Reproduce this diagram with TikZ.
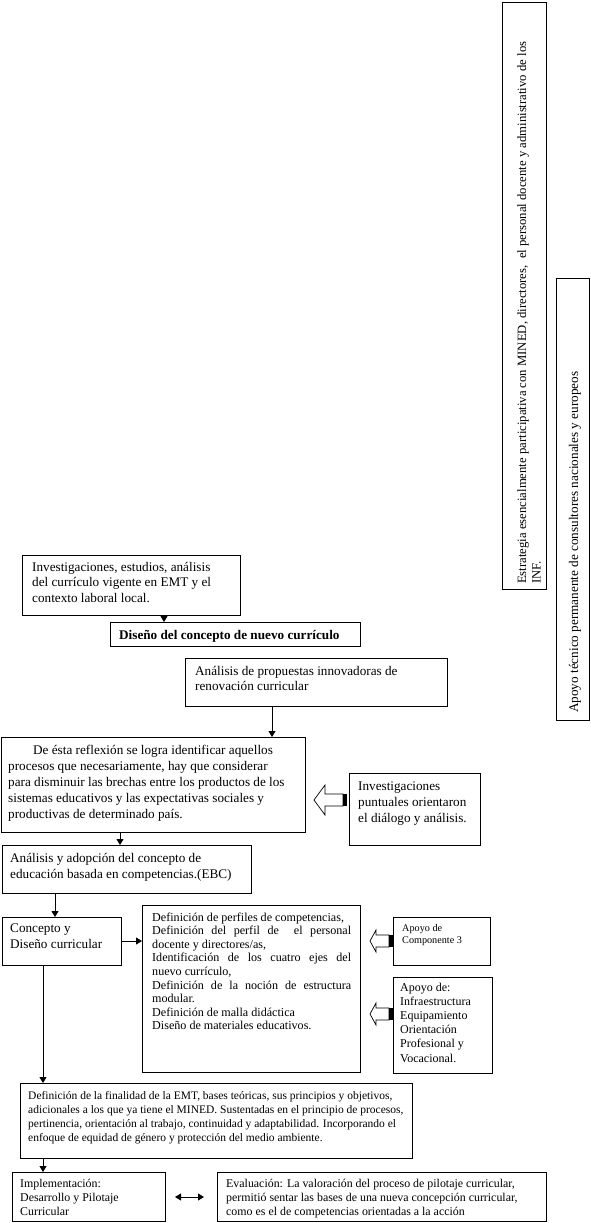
\documentclass[tikz,border=0pt]{standalone}
\usepackage{fontspec}
\setmainfont{Liberation Serif}
\usetikzlibrary{arrows.meta}
\newcommand\tb[2]{\vtop{\hsize=#1\relax\parindent=0pt\raggedright #2}}
\newcommand\fA{\fontsize{13.2}{15.5}\selectfont}
\newcommand\fR{\fontsize{13.2}{14.5}\selectfont}
\newcommand\fS{\fontsize{12.7}{14.5}\selectfont}
\newcommand\fB{\fontsize{12.1}{13.6}\selectfont}
\newcommand\fC{\fontsize{11.5}{14}\selectfont}
\newcommand\fF{\fontsize{11.9}{14}\selectfont}
\newcommand\fD{\fontsize{10.2}{12}\selectfont}
\newcommand\fE{\fontsize{12}{14.2}\selectfont}
\begin{document}
\begin{tikzpicture}[x=1pt,y=-1pt,
 boxst/.style={draw, line width=0.9pt, rectangle, inner sep=0pt, anchor=north west},
 txt/.style={anchor=base west, inner sep=0pt},
 arr/.style={line width=0.9pt, -{Triangle[length=6pt,width=7pt]}},
 darr/.style={line width=0.9pt, {Triangle[length=6pt,width=7pt]}-{Triangle[length=6pt,width=7pt]}},
 hollow/.style={draw, line width=0.7pt, fill=white}]
\useasboundingbox (0,0) rectangle (590,1223);

% boxes
\node[boxst, minimum width=44pt, minimum height=587pt] (b1) at (502,2) {};
\node[boxst, minimum width=33pt, minimum height=442pt] (b2) at (556,278) {};
\node[boxst, minimum width=218pt, minimum height=60pt] (b3) at (22,555) {};
\node[boxst, minimum width=250pt, minimum height=24pt] (b4) at (110,622) {};
\node[boxst, minimum width=262pt, minimum height=48pt] (b5) at (185,658) {};
\node[boxst, minimum width=304pt, minimum height=95pt] (b6) at (1,737) {};
\node[boxst, minimum width=131pt, minimum height=72pt] (b7) at (349,773) {};
\node[boxst, minimum width=249pt, minimum height=48pt] (b8) at (2,845) {};
\node[boxst, minimum width=119pt, minimum height=48pt] (b9) at (2,917) {};
\node[boxst, minimum width=218pt, minimum height=167pt] (b10) at (142,905) {};
\node[boxst, minimum width=97pt, minimum height=48pt] (bc3) at (393,917) {};
\node[boxst, minimum width=99pt, minimum height=96pt] (bap) at (393,977) {};
\node[boxst, minimum width=392pt, minimum height=75pt] (b11) at (20,1083) {};
\node[boxst, minimum width=153pt, minimum height=49pt] (b12) at (12,1172) {};
\node[boxst, minimum width=329pt, minimum height=49pt] (b13) at (217,1172) {};

% texts
\node[txt, rotate=90] (t1) at (526,584) {\tb{600pt}{\fS Estrategia esencialmente participativa con MINED, directores,\ \ el personal docente y administrativo de los\\INF.}};
\node[txt, rotate=90] (t2) at (578,713) {\tb{450pt}{\fR Apoyo técnico permanente de consultores nacionales y europeos}};
\node[txt] (t3) at (32,571) {\tb{210pt}{\fA Investigaciones, estudios, análisis\\del currículo vigente en EMT y el\\contexto laboral local.}};
\node[txt] (t4) at (119,639) {\fA\bfseries Diseño del concepto de nuevo currículo};
\node[txt] (t5) at (195,675) {\tb{250pt}{\fA Análisis de propuestas innovadoras de\\renovación curricular}};
\node[txt] (t6) at (8,754) {\tb{300pt}{\fontsize{13.2}{16}\selectfont\hspace*{25pt}De ésta reflexión se logra identificar aquellos\\procesos que necesariamente, hay que considerar\\para disminuir las brechas entre los productos de los\\sistemas educativos y las expectativas sociales y\\productivas de determinado país.}};
\node[txt] (t7) at (358,790) {\tb{125pt}{\fontsize{13.2}{16}\selectfont Investigaciones\\puntuales orientaron\\el diálogo y análisis.}};
\node[txt] (t8) at (10,862) {\tb{240pt}{\fontsize{13.2}{16}\selectfont Análisis y adopción del concepto de\\educación basada en competencias.(EBC)}};
\node[txt] (t9) at (10,932) {\tb{110pt}{\fontsize{13.2}{16}\selectfont Concepto y\\Diseño curricular}};
\node[txt] (t10) at (152,921) {\tb{199pt}{\fB Definición de perfiles de competencias,\\
\makebox[199pt][s]{Definición del perfil de \ el personal}\\
docente y directores/as,\\
\makebox[199pt][s]{Identificación de los cuatro ejes del}\\
nuevo currículo,\\
\makebox[199pt][s]{Definición de la noción de estructura}\\
modular.\\
Definición de malla didáctica\\
Diseño de materiales educativos.}};
\node[txt] (tc3) at (402,931) {\tb{85pt}{\fD Apoyo de\\Componente 3}};
\node[txt] (tap) at (400,991) {\tb{90pt}{\fE Apoyo de:\\Infraestructura\\Equipamiento\\Orientación\\Profesional y\\Vocacional.}};
\node[txt] (t11) at (28,1099) {\tb{400pt}{\fC Definición de la finalidad de la EMT, bases teóricas, sus principios y objetivos,\\adicionales a los que ya tiene el MINED. Sustentadas en el principio de procesos,\\pertinencia, orientación al trabajo, continuidad y adaptabilidad. Incorporando el\\enfoque de equidad de género y protección del medio ambiente.}};
\node[txt] (t12) at (20,1187) {\tb{140pt}{\fF Implementación:\\Desarrollo y Pilotaje\\Curricular}};
\node[txt] (t13) at (226,1187) {\tb{320pt}{\fF Evaluación: La valoración del proceso de pilotaje curricular,\\permitió sentar las bases de una nueva concepción curricular,\\como es el de competencias orientadas a la acción}};

% connector guide coordinates
\coordinate (x164) at (164,0);
\coordinate (x272) at (272,0);
\coordinate (x120) at (120,0);
\coordinate (x55) at (55,0);
\coordinate (x43) at (43,0);
\coordinate (y941) at (0,941);
\coordinate (dl) at (175,1197);
\coordinate (dr) at (204,1197);

\draw[arr] (b3.south -| x164) -- (b4.north -| x164);
\draw[arr] (b5.south -| x272) -- (b6.north -| x272);
\draw[arr] (b6.south -| x120) -- (b8.north -| x120);
\draw[arr] (b8.south -| x55) -- (b9.north -| x55);
\draw[arr] (b9.east |- y941) -- (b10.west |- y941);
\draw[arr] (b9.south -| x43) -- (b11.north -| x43);
\draw[arr] (b11.south -| x43) -- (b12.north -| x43);
\draw[darr] (dl) -- (dr);

% hollow block arrows
\draw[hollow] (314,800) -- (325,785) -- (325,794) -- (343,794) -- (343,806) -- (325,806) -- (325,815) -- cycle;
\fill (343,794) rectangle (347,806);
\draw[hollow] (370,941) -- (376,930) -- (376,935) -- (389,935) -- (389,947) -- (376,947) -- (376,952) -- cycle;
\fill (389,935) rectangle (393,947);
\draw[hollow] (370,1014) -- (376,1003) -- (376,1008) -- (389,1008) -- (389,1020) -- (376,1020) -- (376,1025) -- cycle;
\fill (389,1008) rectangle (393,1020);
\end{tikzpicture}
\end{document}
